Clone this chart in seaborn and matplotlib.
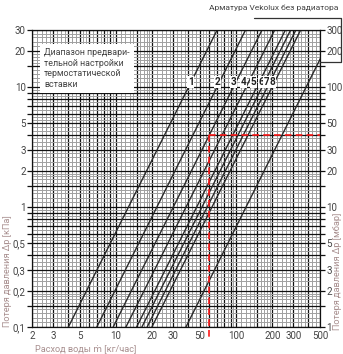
import numpy as np
import pandas as pd
import matplotlib
matplotlib.use("Agg")
import matplotlib.pyplot as plt
from matplotlib.ticker import FixedLocator, FixedFormatter, NullFormatter
import seaborn as sns

# ---- data ----
line_names = ["1", "2", "3", "4", "5", "6", "7", "8", "Vekolux"]
kv_values = [0.127, 0.219, 0.300, 0.383, 0.470, 0.520, 0.575, 0.630, 1.21]  # m3/h
label_flows = [42, 70, 95, 115, 139, 164, 181, 200]      # kg/h, label positions
label_dp = 11.0                                           # kPa
red_flow = 60       # kg/h
red_dp = 4.0        # kPa

x_ticks = [2, 3, 5, 10, 20, 30, 50, 100, 200, 300, 500]
x_ticklabels = ["2", "3", "5", "10", "20", "30", "50", "100", "200", "300", "500"]
y_ticks = [0.1, 0.2, 0.3, 0.5, 1, 2, 3, 5, 10, 20, 30]
y_ticklabels = ["0,1", "0,2", "0,3", "0,5", "1", "2", "3", "5", "10", "20", "30"]
y2_ticks = [1, 2, 3, 5, 10, 20, 30, 50, 100, 200, 300]
y2_ticklabels = ["1", "2", "3", "5", "10", "20", "30", "50", "100", "200", "300"]

major_mant = [1, 1.5, 2, 3, 4, 5, 6, 7, 8, 9]
minor_mant = [1.1, 1.2, 1.3, 1.4, 1.6, 1.7, 1.8, 1.9, 2.2, 2.4, 2.6, 2.8,
              3.25, 3.5, 3.75, 4.33, 4.67, 5.33, 5.67, 6.5, 7.5, 8.5, 9.5]
decades = [0.01, 0.1, 1, 10, 100, 1000]

# ---- build line table: dp[kPa] = (m / (100*kv))^2 ----
dp_range = [0.1, 30.0]
rows = []
for name, kv in zip(line_names, kv_values):
    for dp in dp_range:
        rows.append({"line": name, "flow": 100 * kv * np.sqrt(dp), "dp": dp})
df = pd.DataFrame(rows)

sns.set_style("white")
plt.rcParams["font.family"] = ["Roboto", "DejaVu Sans"]

W, H = 343, 354
fig = plt.figure(figsize=(W / 100, H / 100), dpi=100)
L, R, T, B = 32, 320, 30, 327
ax = fig.add_axes([L / W, 1 - B / H, (R - L) / W, (B - T) / H])
ax.set_xscale("log")
ax.set_yscale("log")
ax.set_xlim(2, 500)
ax.set_ylim(0.1, 30)


def grid_vals(mant, lo, hi):
    vals = []
    for d in decades:
        for m in mant:
            v = m * d
            if lo * 0.999 <= v <= hi * 1.001:
                vals.append(v)
    return vals


def labels_for(vals, ticks, texts, scale=1.0):
    out = []
    for v in vals:
        hit = [t for t, s in zip(ticks, texts) if abs(v * scale - t) < 1e-9 * max(1, t)]
        out.append(texts[ticks.index(hit[0])] if hit else "")
    return out


xmaj = grid_vals(major_mant, 2, 500)
xmin = grid_vals(minor_mant, 2, 500)
ymaj = grid_vals(major_mant, 0.1, 30)
ymin = grid_vals(minor_mant, 0.1, 30)

ax.xaxis.set_major_locator(FixedLocator(xmaj))
ax.xaxis.set_minor_locator(FixedLocator(xmin))
ax.yaxis.set_major_locator(FixedLocator(ymaj))
ax.yaxis.set_minor_locator(FixedLocator(ymin))
ax.xaxis.set_major_formatter(FixedFormatter(labels_for(xmaj, x_ticks, x_ticklabels)))
ax.yaxis.set_major_formatter(FixedFormatter(labels_for(ymaj, y_ticks, y_ticklabels)))
ax.xaxis.set_minor_formatter(NullFormatter())
ax.yaxis.set_minor_formatter(NullFormatter())

ax.grid(which="minor", color="#a0a0a0", lw=0.7)
ax.grid(which="major", color="#111111", lw=0.9)
ax.set_axisbelow(True)
ax.tick_params(which="major", direction="out", length=3.5, width=0.9, color="#111111",
               labelsize=7, labelcolor="#444444", pad=1.0)
ax.tick_params(axis="x", which="major", length=2.5, pad=0.5)
ax.tick_params(which="minor", length=0)
for s in ax.spines.values():
    s.set_color("#111111")
    s.set_linewidth(0.9)

sns.lineplot(data=df, x="flow", y="dp", units="line", estimator=None,
             color="#2a2a2a", lw=1.0, ax=ax, legend=False)
ax.set_xlabel("")
ax.set_ylabel("")

# red dashed guide
ax.plot([red_flow, 500], [red_dp, red_dp], color="#ff1a1a", lw=1.2, ls=(0, (4, 2.5)), zorder=5)
ax.plot([red_flow, red_flow], [red_dp, 0.081], color="#ff1a1a", lw=1.2, ls=(0, (4, 2.5)),
        zorder=5, clip_on=False)

# curve labels
for name, fx in zip(line_names[:8], label_flows):
    ax.text(fx, label_dp, name, fontsize=7.2, fontweight="bold", color="#222222",
            ha="center", va="center", zorder=6,
            bbox=dict(facecolor="white", edgecolor="none", pad=0.6))

# secondary axis (mbar)
ax2 = ax.twinx()
ax2.set_yscale("log")
ax2.set_ylim(1, 300)
ax2.yaxis.set_major_locator(FixedLocator([v * 10 for v in ymaj]))
ax2.yaxis.set_minor_locator(FixedLocator([]))
ax2.yaxis.set_major_formatter(FixedFormatter(labels_for(ymaj, y2_ticks, y2_ticklabels, 10.0)))
ax2.tick_params(which="major", direction="out", length=3.5, width=0.9, color="#111111",
                labelsize=7, labelcolor="#444444", pad=1.0)
ax2.grid(False)
for s in ax2.spines.values():
    s.set_visible(False)

# axis titles
lab_col = "#a88f8f"
fig.text(8 / W, 1 - 327 / H, "Потеря давления Δp [кПа]", rotation=90, ha="center",
         va="bottom", fontsize=6.6, color=lab_col)
fig.text(337 / W, 1 - 330 / H, "Потеря давления Δp [мбар]", rotation=90, ha="center",
         va="bottom", fontsize=6.6, color=lab_col)
fig.text(35 / W, 1 - 348.5 / H, "Расход воды ṁ [кг/час]", ha="left", va="center",
         fontsize=6.6, color=lab_col)

# range text box
fig.text(44 / W, 1 - 48 / H, "Диапазон предвари-\nтельной настройки\nтермостатической\nвставки",
         ha="left", va="top", fontsize=6.4, color="#444444", linespacing=1.25, zorder=10,
         bbox=dict(facecolor="white", edgecolor="none", pad=3))

# Vekolux callout
fig.text(338 / W, 1 - 8 / H, "Арматура Vekolux без радиатора", ha="right", va="center",
         fontsize=6.0, color="#444444")
fig.add_artist(plt.Line2D([254 / W, 341 / W, 341 / W, 320 / W],
                          [1 - 18 / H, 1 - 18 / H, 1 - 62 / H, 1 - 62 / H],
                          transform=fig.transFigure, color="#333333", lw=0.9))

fig.savefig("out.png", dpi=100, facecolor="white")
